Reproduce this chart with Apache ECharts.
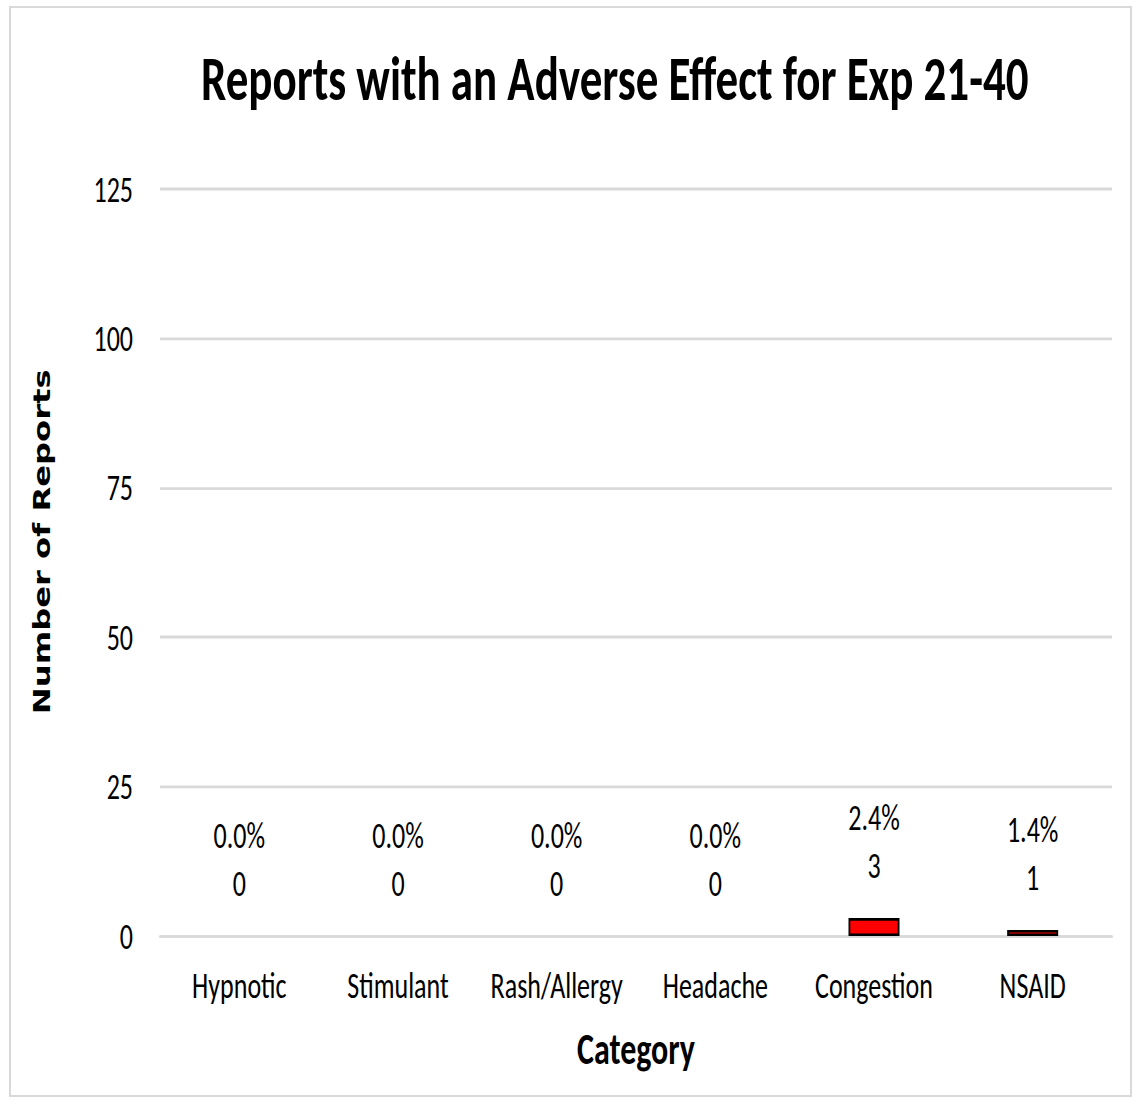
<!DOCTYPE html>
<html>
<head>
<meta charset="utf-8">
<script src="https://cdn.jsdelivr.net/npm/echarts@6/dist/echarts.min.js"></script>
<style>
  html, body { margin: 0; padding: 0; background: #ffffff; overflow: hidden; }
  #frame {
    position: absolute; left: 9px; top: 6px; width: 1123px; height: 1091px;
    border: 2px solid #d9d9d9; box-sizing: border-box;
  }
  /* the chart is laid out on a shorter canvas and stretched vertically,
     giving the tall, condensed lettering of the original export */
  #chart {
    position: absolute; left: 0; top: 0; width: 1140px; height: 789px;
    transform: scaleY(1.4); transform-origin: 0 0;
  }
</style>
</head>
<body>
<div id="frame"></div>
<div id="chart"></div>
<script>
// Report counts per medication category, with share of reports as a percentage
const categories = ['Hypnotic', 'Stimulant', 'Rash/Allergy', 'Headache', 'Congestion', 'NSAID'];
const reportCounts = [0, 0, 0, 0, 3, 1];
const reportPercents = [0.0, 0.0, 0.0, 0.0, 2.4, 1.4];
const yTicks = [0, 25, 50, 75, 100, 125];

const narrow = "Carlito, 'Liberation Sans Narrow', 'DejaVu Sans Condensed', sans-serif";

// empty categories get no outline so nothing shows on the baseline
const barData = reportCounts.map(v =>
  v === 0 ? { value: v, itemStyle: { borderWidth: 0, opacity: 0 } } : { value: v }
);

const chart = echarts.init(document.getElementById('chart'), null, { renderer: 'svg' });

chart.setOption({
  backgroundColor: 'transparent',
  animation: false,
  title: {
    text: 'Reports with an Adverse Effect for Exp 21-40',
    left: 196,
    top: 29,
    textStyle: { fontFamily: narrow, fontWeight: 'bold', fontSize: 45, color: '#000000' }
  },
  grid: { left: 160, right: 28, top: 135, bottom: 120.4, containLabel: false },
  xAxis: {
    type: 'category',
    data: categories,
    name: 'Category',
    nameLocation: 'middle',
    nameGap: 64,
    nameTextStyle: { fontFamily: narrow, fontWeight: 'bold', fontSize: 32, color: '#000000' },
    axisLine: { show: true, lineStyle: { color: '#d9d9d9', width: 2 } },
    axisTick: { show: false },
    axisLabel: { fontFamily: narrow, fontSize: 26, color: '#000000', margin: 22, interval: 0 }
  },
  yAxis: {
    type: 'value',
    min: yTicks[0],
    max: yTicks[yTicks.length - 1],
    interval: 25,
    axisLine: { show: false },
    axisTick: { show: false },
    splitLine: { lineStyle: { color: '#d9d9d9', width: 2 } },
    axisLabel: { fontFamily: narrow, fontSize: 26, color: '#000000', margin: 27 }
  },
  graphic: [{
    type: 'text',
    x: 42,
    y: 387,
    rotation: Math.PI / 2,
    style: {
      text: 'Number of Reports',
      fontFamily: "'DejaVu Sans', Verdana, sans-serif",
      fontWeight: 'bold',
      fontSize: 23,
      fill: '#000000',
      textAlign: 'center',
      textVerticalAlign: 'middle'
    }
  }],
  series: [{
    type: 'bar',
    data: barData,
    barWidth: 51,
    itemStyle: { color: '#ff0000', borderColor: '#000000', borderWidth: 1.8 },
    label: {
      show: true,
      position: 'top',
      distance: 21,
      fontFamily: narrow,
      fontSize: 26,
      lineHeight: 34,
      color: '#000000',
      opacity: 1,
      formatter: p => reportPercents[p.dataIndex].toFixed(1) + '%\n' + p.value
    }
  }]
});
</script>
</body>
</html>
